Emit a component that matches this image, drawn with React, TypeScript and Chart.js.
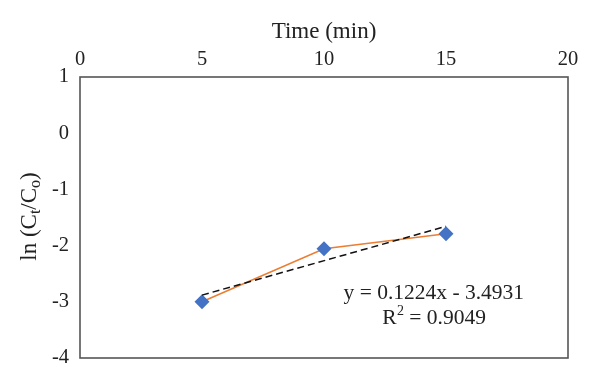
import React, { useEffect, useRef } from "react";
import { Chart, registerables } from "chart.js";

Chart.register(...registerables);

// ---- data ----
const timeMin = [5, 10, 15];
const lnRatio = [-3.0, -2.055, -1.79];
const trendX = [5, 15];
const trendY = [-2.8811, -1.6571];
const xTicks = [0, 5, 10, 15, 20];
const yTicks = [1, 0, -1, -2, -3, -4];
const xTitle = "Time (min)";
const equationText = "y = 0.1224x - 3.4931";
const r2Value = "0.9049";

const FONT = "'Liberation Serif', 'Times New Roman', serif";
const TEXT = "#222222";

const framePlugin = {
  id: "frame",
  afterDraw(chart: any) {
    const { ctx, chartArea } = chart;
    ctx.save();
    ctx.strokeStyle = "#555555";
    ctx.lineWidth = 1.6;
    ctx.strokeRect(chartArea.left, chartArea.top, chartArea.right - chartArea.left, chartArea.bottom - chartArea.top);
    ctx.restore();
  },
};

const yTitlePlugin = {
  id: "yTitle",
  afterDraw(chart: any) {
    const { ctx, chartArea } = chart;
    const parts = [
      { t: "ln (C", sub: false },
      { t: "t", sub: true },
      { t: "/C", sub: false },
      { t: "o", sub: true },
      { t: ")", sub: false },
    ];
    const main = `23px ${FONT}`;
    const small = `16px ${FONT}`;
    ctx.save();
    let total = 0;
    const widths = parts.map((p) => {
      ctx.font = p.sub ? small : main;
      const w = ctx.measureText(p.t).width;
      total += w;
      return w;
    });
    const cy = (chartArea.top + chartArea.bottom) / 2 - 1;
    ctx.translate(30, cy);
    ctx.rotate(-Math.PI / 2);
    ctx.fillStyle = TEXT;
    ctx.textBaseline = "middle";
    ctx.textAlign = "left";
    let x = -total / 2;
    parts.forEach((p, i) => {
      ctx.font = p.sub ? small : main;
      ctx.fillText(p.t, x, p.sub ? 6 : 0);
      x += widths[i];
    });
    ctx.restore();
  },
};

const equationPlugin = {
  id: "equation",
  afterDraw(chart: any) {
    const { ctx, chartArea } = chart;
    const cx = chartArea.left + (chartArea.right - chartArea.left) * 0.725;
    const y1 = chartArea.top + (chartArea.bottom - chartArea.top) * 0.77;
    const y2 = y1 + 25;
    const big = `21.5px ${FONT}`;
    const sup = `14px ${FONT}`;
    ctx.save();
    ctx.fillStyle = TEXT;
    ctx.textBaseline = "middle";
    ctx.font = big;
    ctx.textAlign = "center";
    ctx.fillText(equationText, cx, y1);
    // R² line
    const a = "R";
    const b = "2";
    const c = " = " + r2Value;
    ctx.font = big;
    const wa = ctx.measureText(a).width;
    const wc = ctx.measureText(c).width;
    ctx.font = sup;
    const wb = ctx.measureText(b).width;
    const tot = wa + wb + wc;
    let x = cx - tot / 2;
    ctx.textAlign = "left";
    ctx.font = big;
    ctx.fillText(a, x, y2);
    x += wa;
    ctx.font = sup;
    ctx.fillText(b, x + 0.5, y2 - 7);
    x += wb + 0.5;
    ctx.font = big;
    ctx.fillText(c, x, y2);
    ctx.restore();
  },
};

export default function App() {
  const canvasRef = useRef<HTMLCanvasElement | null>(null);

  useEffect(() => {
    const canvas = canvasRef.current;
    if (!canvas) return;
    const chart = new Chart(canvas, {
      type: "scatter",
      data: {
        datasets: [
          {
            label: "Linear trend",
            data: trendX.map((x, i) => ({ x, y: trendY[i] })),
            showLine: true,
            borderColor: "#111111",
            borderWidth: 1.5,
            borderDash: [7, 4],
            pointRadius: 0,
            fill: false,
          },
          {
            label: "ln(Ct/Co)",
            data: timeMin.map((x, i) => ({ x, y: lnRatio[i] })),
            showLine: true,
            borderColor: "#ED7D31",
            borderWidth: 1.6,
            pointStyle: "rectRot",
            pointRadius: 7.5,
            pointBackgroundColor: "#4472C4",
            pointBorderColor: "#4472C4",
            pointBorderWidth: 0,
            fill: false,
          },
        ],
      },
      options: {
        responsive: false,
        animation: false,
        layout: { padding: { left: 8, top: 0, right: 32, bottom: 27 } },
        plugins: {
          legend: { display: false },
          tooltip: { enabled: false },
        },
        scales: {
          x: {
            type: "linear",
            position: "top",
            min: 0,
            max: 20,
            afterBuildTicks: (scale: any) => {
              scale.ticks = xTicks.map((v) => ({ value: v }));
            },
            afterFit: (scale: any) => {
              scale.height = 77;
            },
            grid: { display: false, drawTicks: false },
            border: { display: false },
            ticks: {
              padding: 5,
              color: TEXT,
              font: { family: FONT, size: 20.5 },
              maxRotation: 0,
            },
            title: {
              display: true,
              text: xTitle,
              color: TEXT,
              font: { family: FONT, size: 23 },
              padding: { top: 18, bottom: 0 },
            },
          },
          y: {
            type: "linear",
            min: -4,
            max: 1,
            afterBuildTicks: (scale: any) => {
              scale.ticks = yTicks.map((v) => ({ value: v }));
            },
            afterFit: (scale: any) => {
              scale.width = 72;
            },
            grid: { display: false, drawTicks: false },
            border: { display: false },
            ticks: {
              padding: 11,
              color: TEXT,
              font: { family: FONT, size: 20.5 },
            },
          },
        },
      },
      plugins: [framePlugin, yTitlePlugin, equationPlugin],
    });
    return () => chart.destroy();
  }, []);

  return (
    <div style={{ position: "fixed", left: 0, top: 0, width: 600, height: 385, background: "#ffffff" }}>
      <canvas ref={canvasRef} width={600} height={385} />
    </div>
  );
}
